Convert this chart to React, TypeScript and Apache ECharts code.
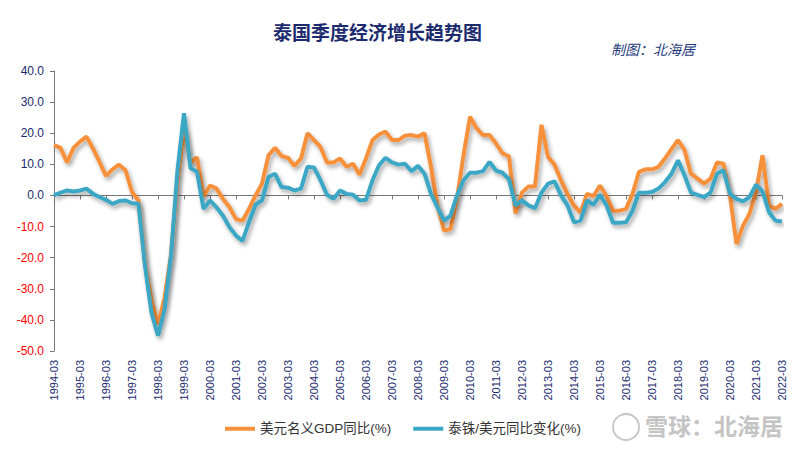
import React, { useEffect, useRef } from "react";
import * as echarts from "echarts";

const years: number[] = [];
for (let y = 1994; y <= 2022; y++) years.push(y);
const quarters = ["03", "06", "09", "12"];
const categories: string[] = [];
years.forEach((y) => quarters.forEach((q) => { if (!(y === 2022 && q !== "03")) categories.push(`${y}-${q}`); }));

const usdGdpYoY = [
  16.2, 15.3, 10.6, 15.3, 17.3, 18.9, 15.1, 10.8, 6.3, 8.4, 9.9, 8.1,
  1.1, -1.6, -22.0, -33.5, -41.5, -33.0, -19.0, 5.0, 21.5, 10.5, 12.3, -0.3,
  3.2, 2.2, -1.1, -3.8, -7.6, -8.1, -4.3, 0.0, 3.8, 12.9, 15.3, 12.7,
  12.1, 9.5, 11.9, 20.0, 17.8, 15.6, 10.6, 10.6, 11.9, 9.2, 10.2, 6.7,
  11.9, 17.8, 19.6, 20.5, 17.8, 17.8, 19.2, 19.4, 18.9, 20.0, 9.2, -3.2,
  -11.3, -10.8, -1.0, 12.9, 25.3, 21.6, 19.4, 19.4, 16.7, 13.5, 12.6, -5.8,
  0.9, 2.9, 2.9, 22.7, 12.4, 9.9, 4.9, 0.5, -3.2, -5.5, 0.5, -0.2,
  3.2, -0.2, -4.9, -4.9, -4.3, 0.5, 7.6, 8.4, 8.4, 9.2, 11.9, 14.9,
  17.8, 14.6, 7.0, 5.4, 3.8, 5.4, 10.6, 10.2, 0.0, -15.6, -9.7, -5.9,
  1.1, 12.9, -3.2, -4.3, -2.7,
];

const thbUsdYoY = [
  0.0, 0.9, 1.6, 1.3, 1.6, 2.2, 0.5, -0.5, -1.4, -2.7, -1.8, -1.6,
  -2.5, -2.7, -22.6, -37.8, -45.1, -36.7, -19.4, 8.1, 26.4, 8.8, 7.6, -4.3,
  -1.6, -3.8, -6.5, -10.2, -12.9, -14.6, -8.6, -3.0, -1.6, 5.9, 7.0, 2.7,
  2.5, 1.6, 2.2, 9.2, 9.0, 4.9, 0.2, -1.1, 1.6, 0.5, 0.2, -1.6,
  -1.4, 4.9, 9.7, 12.1, 10.6, 9.9, 10.2, 7.8, 9.5, 7.0, 0.5, -3.8,
  -8.1, -6.5, 0.0, 4.9, 7.3, 7.3, 7.8, 10.8, 8.0, 7.3, 5.2, -3.2,
  -1.6, -3.2, -4.1, 0.9, 3.8, 4.5, 0.0, -3.2, -8.6, -8.1, -1.6, -3.0,
  0.2, -3.2, -8.8, -8.8, -8.6, -5.0, 0.9, 0.9, 1.1, 2.2, 4.3, 7.0,
  11.3, 6.5, 0.9, 0.2, -0.5, 0.9, 7.0, 8.1, 0.5, -1.1, -1.9, -0.5,
  3.5, 1.3, -5.4, -8.1, -8.4,
];

const seriesNames = ["美元名义GDP同比(%)", "泰铢/美元同比变化(%)"];
const colors = ["#F7903A", "#3AA7C5"];
const titleText = "泰国季度经济增长趋势图";
const authorText = "制图：北海居";
const watermarkText = "雪球：北海居";

const NAVY = "#1B2B6E";
const FONT = "'Liberation Sans', Arial, 'Noto Sans CJK SC', sans-serif";

export default function App() {
  const ref = useRef<HTMLDivElement>(null);
  useEffect(() => {
    if (!ref.current) return;
    const chart = echarts.init(ref.current, undefined, { renderer: "svg" });
    const lineSeries = (name: string, data: number[], color: string) => ({
      name,
      type: "line",
      data,
      xAxisIndex: 0,
      symbol: "none",
      lineStyle: {
        color,
        width: 4,
        shadowColor: "rgba(0,0,0,0.35)",
        shadowBlur: 4,
        shadowOffsetX: 2,
        shadowOffsetY: 3,
      },
      itemStyle: { color },
    });
    chart.setOption({
      animation: false,
      backgroundColor: "#ffffff",
      textStyle: { fontFamily: FONT },
      grid: { left: 54, right: 18, top: 71, bottom: 99, containLabel: false },
      legend: {
        data: seriesNames,
        left: 220,
        top: 417,
        itemWidth: 30,
        itemHeight: 4,
        itemGap: 22,
        icon: "rect",
        textStyle: { color: "#333", fontSize: 13.5, fontFamily: FONT },
      },
      xAxis: [
        {
          type: "category",
          data: categories,
          boundaryGap: false,
          axisLine: { onZero: true, lineStyle: { color: "#777", width: 1 } },
          axisTick: { show: true, interval: 3, length: 4, lineStyle: { color: "#777" } },
          axisLabel: { show: false },
          splitLine: { show: false },
        },
        {
          type: "category",
          data: categories,
          boundaryGap: false,
          position: "bottom",
          axisLine: { show: false, onZero: false },
          axisTick: { show: false },
          axisLabel: {
            show: true,
            interval: 3,
            rotate: 90,
            margin: 9,
            color: NAVY,
            fontSize: 11,
            fontFamily: FONT,
          },
          splitLine: { show: false },
        },
      ],
      yAxis: {
        type: "value",
        min: -50,
        max: 40,
        interval: 10,
        axisLine: { show: true, lineStyle: { color: "#777", width: 1 } },
        axisTick: { show: true, length: 4, lineStyle: { color: "#777" } },
        splitLine: { show: false },
        axisLabel: {
          margin: 10,
          fontSize: 12,
          fontFamily: FONT,
          formatter: (v: number) => (v < 0 ? `{neg|${v.toFixed(1)}}` : `{pos|${v.toFixed(1)}}`),
          rich: {
            neg: { color: "#FF0000", fontSize: 12, fontFamily: FONT },
            pos: { color: NAVY, fontSize: 12, fontFamily: FONT },
          },
        },
      },
      series: [
        lineSeries(seriesNames[0], usdGdpYoY, colors[0]),
        lineSeries(seriesNames[1], thbUsdYoY, colors[1]),
      ],
      graphic: [
        {
          type: "text",
          left: 273,
          top: 22,
          style: {
            text: titleText,
            fill: NAVY,
            font: "bold 19px 'Noto Sans CJK SC', sans-serif",
          },
        },
        {
          type: "text",
          left: 611,
          top: 42,
          style: {
            text: authorText,
            fill: "#1F3A7A",
            font: "italic 14px 'Noto Sans CJK SC', sans-serif",
          },
        },
        {
          type: "circle",
          shape: { cx: 626, cy: 427, r: 13 },
          style: { fill: "none", stroke: "#c8c8c8", lineWidth: 2 },
        },
        {
          type: "text",
          left: 645,
          top: 413,
          style: {
            text: watermarkText,
            fill: "#c4c4c4",
            font: "bold 23px 'Noto Sans CJK SC', sans-serif",
          },
        },
      ],
    });
    return () => chart.dispose();
  }, []);
  return <div ref={ref} style={{ width: 800, height: 450, position: "absolute", left: 0, top: 0 }} />;
}
